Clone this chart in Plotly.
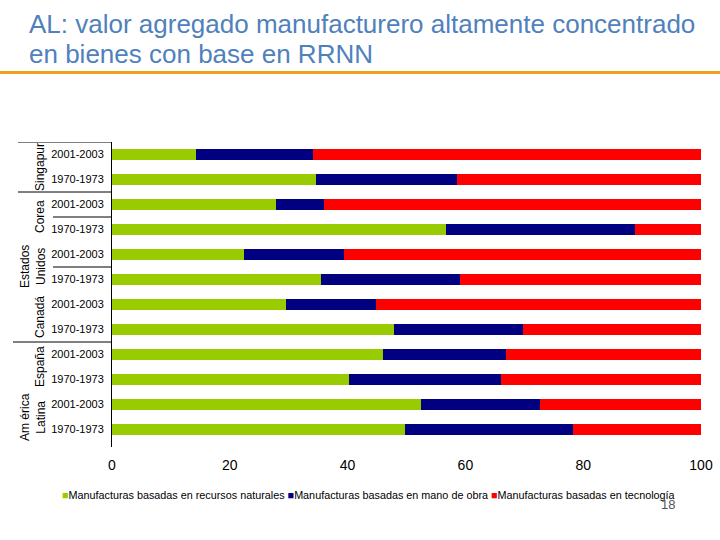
import plotly.graph_objects as go

# ---- data ----
groups = ["Singapur", "Corea", "Estados<br>Unidos", "Canadá", "España", "Am érica<br>Latina"]
row_labels = ["2001-2003", "1970-1973"] * 6
recursos_naturales = [14.3, 34.6, 27.8, 56.7, 22.4, 35.5, 29.5, 47.9, 46.0, 40.2, 52.5, 49.7]
mano_de_obra = [19.8, 24.0, 8.2, 32.1, 17.0, 23.6, 15.3, 21.9, 20.9, 25.8, 20.2, 28.6]
tecnologia = [round(100 - a - b, 1) for a, b in zip(recursos_naturales, mano_de_obra)]
series_names = ["Manufacturas basadas en recursos naturales",
                "Manufacturas basadas en mano de obra",
                "Manufacturas basadas en tecnología"]
series_colors = ["#99cc00", "#000080", "#ff0000"]
x_ticks = [0, 20, 40, 60, 80, 100]

W, H = 720, 540
L, R, T, B = 112, 701, 141.5, 447


def px2x(px):
    return (px - L) / (R - L)


def px2y(py):
    return (B - py) / (B - T)


rows = list(range(len(row_labels)))
fig = go.Figure()
for name, vals, col in zip(series_names, [recursos_naturales, mano_de_obra, tecnologia], series_colors):
    fig.add_trace(go.Bar(
        y=rows, x=vals, name=name, orientation="h",
        marker=dict(color=col, line=dict(width=0)), width=0.42,
    ))

font_family = "Liberation Sans, Arial, sans-serif"
fig.update_layout(
    barmode="stack",
    width=W, height=H,
    margin=dict(l=L, r=W - R, t=T, b=H - B, autoexpand=False),
    paper_bgcolor="white", plot_bgcolor="white",
    font=dict(family=font_family, color="black"),
    showlegend=False,
    xaxis=dict(range=[0, 100], tickvals=x_ticks, showgrid=False, zeroline=False, showline=False,
               ticks="", tickfont=dict(size=14), ticklabelstandoff=8, fixedrange=True,
               automargin=False),
    yaxis=dict(range=[11.7, -0.5], tickvals=rows, ticktext=row_labels, showgrid=False,
               zeroline=False, showline=True, linecolor="black", linewidth=1, ticks="",
               tickfont=dict(size=11), ticklabelstandoff=5, fixedrange=True,
               automargin=False),
)

shapes = []
# title underline
shapes.append(dict(type="line", xref="paper", yref="paper", x0=px2x(0), x1=px2x(720),
                   y0=px2y(72), y1=px2y(72), line=dict(color="#f0a020", width=3)))
# group separators (row positions, left x in px)
seps = [(-0.5, 18), (1.5, 18), (2.5, 53), (4.5, 53), (7.5, 13)]
for yy, x0 in seps:
    shapes.append(dict(type="line", xref="paper", yref="y", x0=px2x(x0), x1=0,
                       y0=yy, y1=yy, line=dict(color="black", width=1)))
fig.update_layout(shapes=shapes)

ann = []
group_x = [40, 40, 33, 40, 40, 33]
for i, g in enumerate(groups):
    ann.append(dict(text=g, xref="paper", yref="y", x=px2x(group_x[i]), y=2 * i + 0.5,
                    textangle=-90, showarrow=False, xanchor="center", yanchor="middle",
                    font=dict(size=12, family=font_family, color="black")))
ann.append(dict(text="AL: valor agregado manufacturero altamente concentrado", xref="paper", yref="paper",
                x=px2x(27), y=px2y(23), xanchor="left", yanchor="middle", showarrow=False,
                font=dict(size=26, family=font_family, color="#4f81bd")))
ann.append(dict(text="en bienes con base en RRNN", xref="paper", yref="paper",
                x=px2x(27), y=px2y(53), xanchor="left", yanchor="middle", showarrow=False,
                font=dict(size=26, family=font_family, color="#4f81bd")))
# legend line
legend_text = "".join(
    f'<span style="color:{c}">■</span>{n} ' for n, c in zip(series_names, series_colors)
).strip()
ann.append(dict(text=legend_text, xref="paper", yref="paper", x=px2x(60), y=px2y(495),
                xanchor="left", yanchor="middle", showarrow=False,
                font=dict(size=10.8, family=font_family, color="black")))
ann.append(dict(text="18", xref="paper", yref="paper", x=px2x(668), y=px2y(505),
                xanchor="center", yanchor="middle", showarrow=False,
                font=dict(size=13, family=font_family, color="#555555")))
fig.update_layout(annotations=ann)

fig.write_html(
    "out.html",
    config={"displayModeBar": False},
    post_script="document.body.style.margin='0';document.body.style.overflow='hidden';",
)
